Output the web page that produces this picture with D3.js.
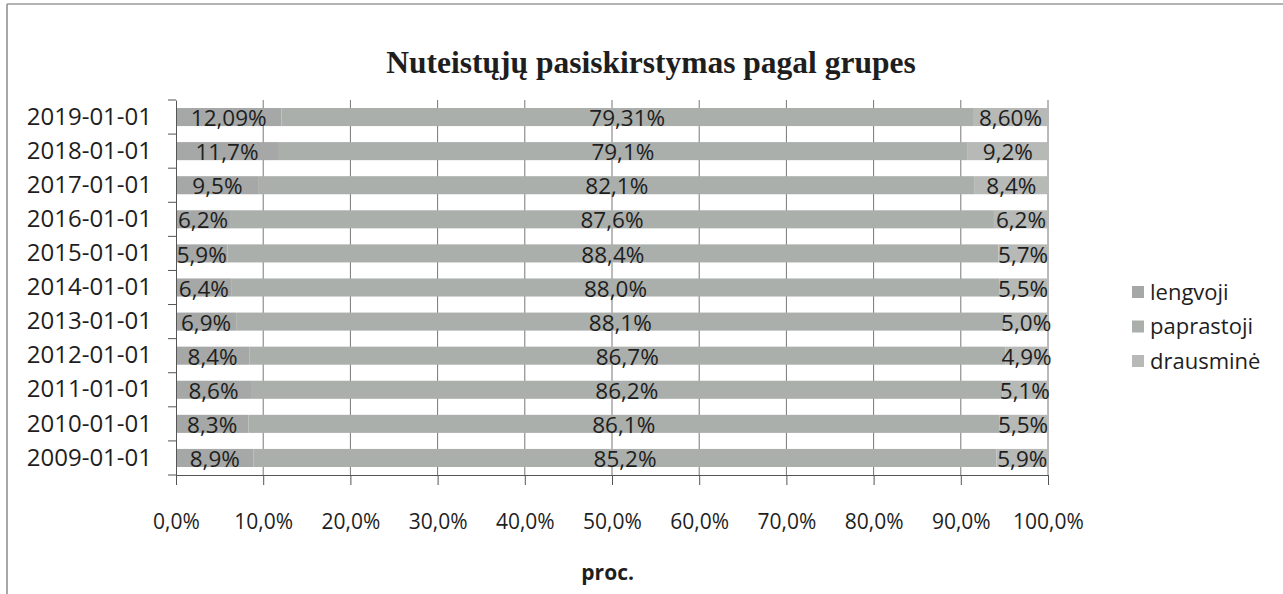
<!DOCTYPE html>
<head>
  <meta charset="utf-8">
  <title>Nuteistųjų pasiskirstymas pagal grupes</title>
  <script src="https://d3js.org/d3.v7.min.js"></script>
  <style>
    body { margin: 0; background: #fff; }
    text { font-family: 'Open Sans', sans-serif; fill: #1e1e1e; }
  </style>
</head>
<body>
  <div id="my_dataviz"></div>
</body>
<script>

  // data
  var years = ["2019-01-01", "2018-01-01", "2017-01-01", "2016-01-01", "2015-01-01", "2014-01-01",
    "2013-01-01", "2012-01-01", "2011-01-01", "2010-01-01", "2009-01-01"];
  var series = ["lengvoji", "paprastoji", "drausminė"];
  var lengvoji = [12.09, 11.7, 9.5, 6.2, 5.9, 6.4, 6.9, 8.4, 8.6, 8.3, 8.9];
  var paprastoji = [79.31, 79.1, 82.1, 87.6, 88.4, 88.0, 88.1, 86.7, 86.2, 86.1, 85.2];
  var drausmine = [8.60, 9.2, 8.4, 6.2, 5.7, 5.5, 5.0, 4.9, 5.1, 5.5, 5.9];
  var labelDecimals = [2, 1, 1, 1, 1, 1, 1, 1, 1, 1, 1];
  var xTicks = [0, 10, 20, 30, 40, 50, 60, 70, 80, 90, 100];

  var colors = { "lengvoji": "#a5a8a6", "paprastoji": "#abafac", "drausminė": "#b6b9b6" };

  var W = 1283, H = 594;
  var margin = { top: 100, right: 235, bottom: 119, left: 176 },
    width = W - margin.left - margin.right,
    height = H - margin.top - margin.bottom;

  var root = d3.select("#my_dataviz").append("svg")
    .attr("width", W).attr("height", H);

  // outer frame (scanned sheet edges)
  root.append("line").attr("x1", 7).attr("x2", W).attr("y1", 4).attr("y2", 4)
    .attr("stroke", "#9a9a9a").attr("stroke-width", 1.5);
  root.append("line").attr("x1", 7).attr("x2", 7).attr("y1", 4).attr("y2", H)
    .attr("stroke", "#8a8a8a").attr("stroke-width", 1.5);

  // title
  root.append("text")
    .attr("x", 651).attr("y", 73)
    .attr("text-anchor", "middle")
    .style("font-family", "'Liberation Serif', 'Times New Roman', serif")
    .style("font-weight", "bold")
    .style("font-size", "31.5px")
    .text("Nuteistųjų pasiskirstymas pagal grupes");

  var svg = root.append("g")
    .attr("transform", "translate(" + margin.left + "," + margin.top + ")");

  var rows = years.map(function (y, i) {
    return { year: y, "lengvoji": lengvoji[i], "paprastoji": paprastoji[i], "drausminė": drausmine[i], dec: labelDecimals[i] };
  });

  var x = d3.scaleLinear().domain([0, 100]).range([0, width]);
  var y = d3.scaleBand().domain(years).range([0, height]).paddingInner(0.47).paddingOuter(0.235);
  var yAxisBand = d3.scaleBand().domain(years).range([0, height]);

  // vertical gridlines
  svg.append("g").selectAll("line")
    .data(xTicks.slice(1))
    .enter().append("line")
    .attr("x1", function (d) { return x(d); })
    .attr("x2", function (d) { return x(d); })
    .attr("y1", 0).attr("y2", height)
    .attr("stroke", "#777").attr("stroke-width", 1);

  var stacked = d3.stack().keys(series)(rows);

  var layers = svg.append("g").selectAll("g")
    .data(stacked)
    .enter().append("g")
    .attr("fill", function (d) { return colors[d.key]; });

  layers.selectAll("rect")
    .data(function (d) { return d; })
    .enter().append("rect")
    .attr("x", function (d) { return x(d[0]); })
    .attr("y", function (d) { return y(d.data.year); })
    .attr("width", function (d) { return x(d[1]) - x(d[0]); })
    .attr("height", y.bandwidth());

  // data labels, centered in each segment
  layers.each(function (layer) {
    d3.select(this).selectAll("text")
      .data(layer)
      .enter().append("text")
      .attr("x", function (d) { return x((d[0] + d[1]) / 2); })
      .attr("y", function (d) { return y(d.data.year) + y.bandwidth() / 2 + 1; })
      .attr("dy", "0.36em")
      .attr("text-anchor", "middle")
      .style("font-size", "22.5px")
      .text(function (d) {
        return (d[1] - d[0]).toFixed(d.data.dec).replace(".", ",") + "%";
      });
  });

  // y axis (categories)
  var yAxis = svg.append("g")
    .call(d3.axisLeft(yAxisBand).tickSize(0).tickPadding(24));
  yAxis.select(".domain").attr("stroke", "#555");
  yAxis.selectAll("text").style("font-size", "24px").style("fill", "#1e1e1e")
    .style("font-family", "'Open Sans', sans-serif");
  yAxis.append("g").selectAll("line")
    .data(years.map(function (d) { return yAxisBand(d); }).concat([height]))
    .enter().append("line")
    .attr("x1", -8).attr("x2", 0)
    .attr("y1", function (d) { return d; }).attr("y2", function (d) { return d; })
    .attr("stroke", "#555");

  // x axis
  var xAxis = svg.append("g")
    .attr("transform", "translate(0," + height + ")")
    .call(d3.axisBottom(x).tickValues(xTicks).tickSize(10).tickPadding(29)
      .tickFormat(function (d) { return d.toFixed(1).replace(".", ",") + "%"; }));
  xAxis.select(".domain").attr("stroke", "#555");
  xAxis.selectAll("line").attr("stroke", "#555");
  xAxis.selectAll("text").style("font-size", "21px").style("fill", "#1e1e1e")
    .style("font-family", "'Open Sans', sans-serif");

  // x axis title
  svg.append("text")
    .attr("x", x(49.5)).attr("y", height + 105)
    .attr("text-anchor", "middle")
    .style("font-size", "21px")
    .style("font-weight", "bold")
    .text("proc.");

  // legend
  var legend = root.append("g").attr("transform", "translate(1132,292)");
  var items = legend.selectAll("g")
    .data(series)
    .enter().append("g")
    .attr("transform", function (d, i) { return "translate(0," + (i * 34.5) + ")"; });
  items.append("rect")
    .attr("x", 0).attr("y", -6).attr("width", 12).attr("height", 12)
    .attr("fill", function (d) { return colors[d]; });
  items.append("text")
    .attr("x", 18).attr("dy", "0.35em")
    .style("font-size", "22px")
    .text(function (d) { return d; });

</script>
